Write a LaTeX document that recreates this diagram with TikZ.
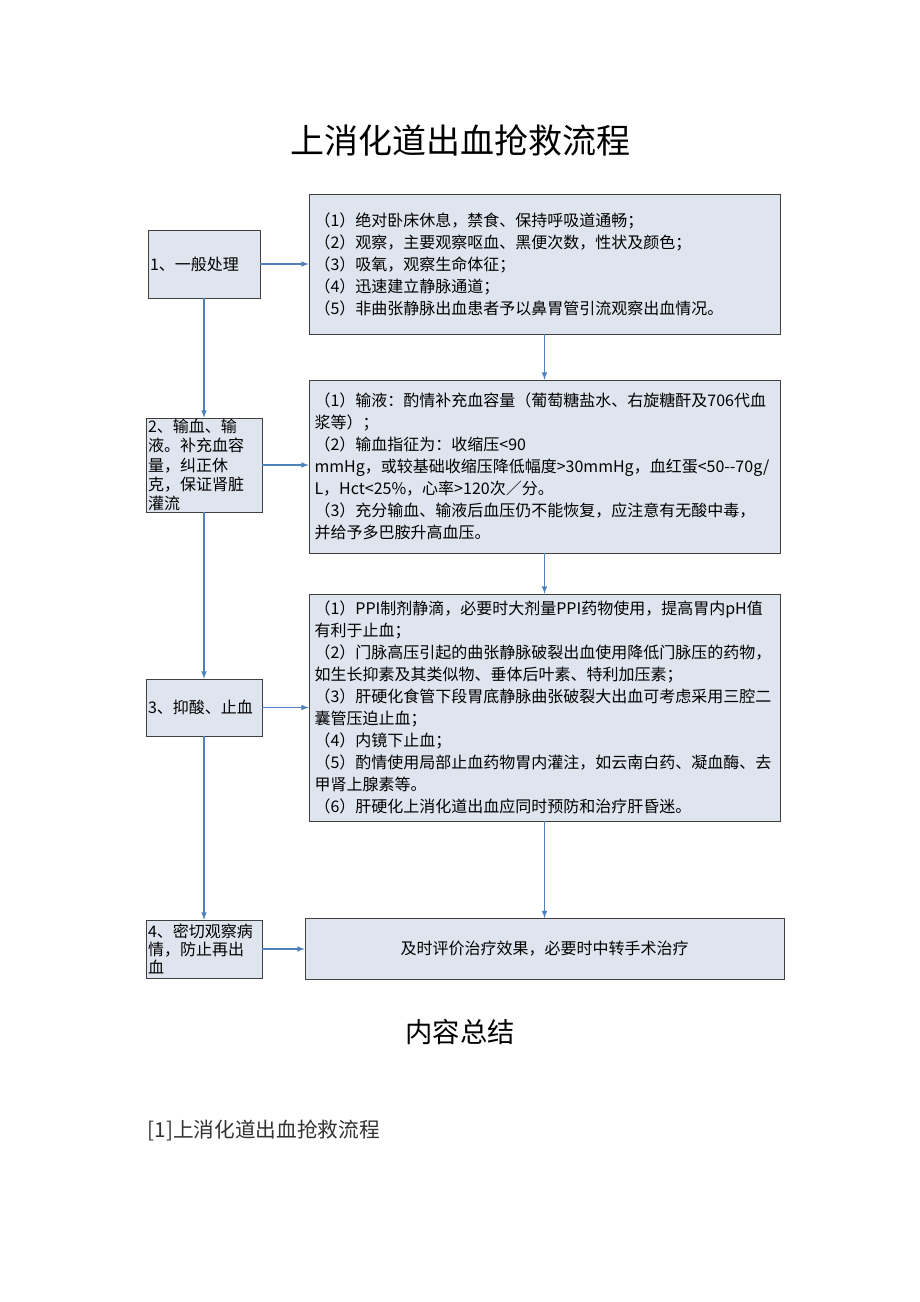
\documentclass[tikz,border=0pt]{standalone}
\usepackage{fontspec}
\setmainfont{Noto Sans CJK SC}
\usetikzlibrary{arrows}
\definecolor{boxfill}{RGB}{223,229,239}
\definecolor{flowblue}{RGB}{79,129,189}
\tikzstyle{stage} = [draw=black!75, fill=boxfill, inner xsep=1.5pt, inner ysep=0pt, align=left, font={\fontsize{12}{14.5}\selectfont}]
\tikzstyle{detail} = [draw=black!75, fill=boxfill, inner sep=4pt, align=left, minimum width=353.25pt, text width=345pt, font={\fontsize{12}{16.5}\selectfont}]
\tikzstyle{flow} = [draw=flowblue, line width=0.9pt, ->, >=latex]

\begin{document}
\begin{tikzpicture}[x=0.75pt,y=-0.75pt]
    \path[fill=white] (0,0) rectangle (920,1302);
    \node[font={\fontsize{25.5}{30}\selectfont}](title) at (460,140){上消化道出血抢救流程};
    % left column
    \node[stage,minimum width=84pt,minimum height=51pt,text width=81pt](1) at (204,264){1、一般处理};
    \node[stage,minimum width=87pt,minimum height=70.5pt,text width=84pt](2) at (204,465){2、输血、输\\液。补充血容\\量，纠正休\\克，保证肾脏\\灌流};
    \node[stage,minimum width=87pt,minimum height=42.75pt,text width=84pt](3) at (204,707.5){3、抑酸、止血};
    \node[stage,minimum width=87pt,minimum height=43.5pt,text width=84pt,font={\fontsize{12}{13.5}\selectfont}](4) at (204,949){4、密切观察病\\情，防止再出\\血};
    % right column
    \node[detail,minimum height=105pt](5) at (544.5,264){（1）绝对卧床休息，禁食、保持呼吸道通畅；\\（2）观察，主要观察呕血、黑便次数，性状及颜色；\\（3）吸氧，观察生命体征；\\（4）迅速建立静脉通道；\\（5）非曲张静脉出血患者予以鼻胃管引流观察出血情况。};
    \node[detail,minimum height=129.75pt](6) at (544.5,466.5){（1）输液：酌情补充血容量（葡萄糖盐水、右旋糖酐及706代血\\浆等）；\\（2）输血指征为：收缩压<90\\mmHg，或较基础收缩压降低幅度>30mmHg，血红蛋<50-{}-70g/\\L，Hct<25\%，心率>120次／分。\\（3）充分输血、输液后血压仍不能恢复，应注意有无酸中毒，\\并给予多巴胺升高血压。};
    \node[detail,minimum height=170.25pt](7) at (544.5,707.5){（1）PPI制剂静滴，必要时大剂量PPI药物使用，提高胃内pH值\\有利于止血；\\（2）门脉高压引起的曲张静脉破裂出血使用降低门脉压的药物，\\如生长抑素及其类似物、垂体后叶素、特利加压素；\\（3）肝硬化食管下段胃底静脉曲张破裂大出血可考虑采用三腔二\\囊管压迫止血；\\（4）内镜下止血；\\（5）酌情使用局部止血药物胃内灌注，如云南白药、凝血酶、去\\甲肾上腺素等。\\（6）肝硬化上消化道出血应同时预防和治疗肝昏迷。};
    \node[detail,minimum width=359.25pt,minimum height=45.75pt,align=center](8) at (544.5,949){及时评价治疗效果，必要时中转手术治疗};
    % arrows
    \draw[flow](1)--(2);
    \draw[flow](2)--(3);
    \draw[flow](3)--(4);
    \draw[flow](5)--(6);
    \draw[flow](6)--(7);
    \draw[flow](7)--(8);
    \draw[flow](1)--(5);
    \draw[flow](2)--(2 -| 6.west);
    \draw[flow](3)--(7);
    \draw[flow](4)--(8);
    % below the chart
    \node[font={\fontsize{20.5}{24}\selectfont}](summary) at (460,1032){内容总结};
    \node[anchor=west,text=black!80,font={\fontsize{15.5}{18}\selectfont}](ref) at (143,1130){[1]上消化道出血抢救流程};
  \end{tikzpicture}
\end{document}
